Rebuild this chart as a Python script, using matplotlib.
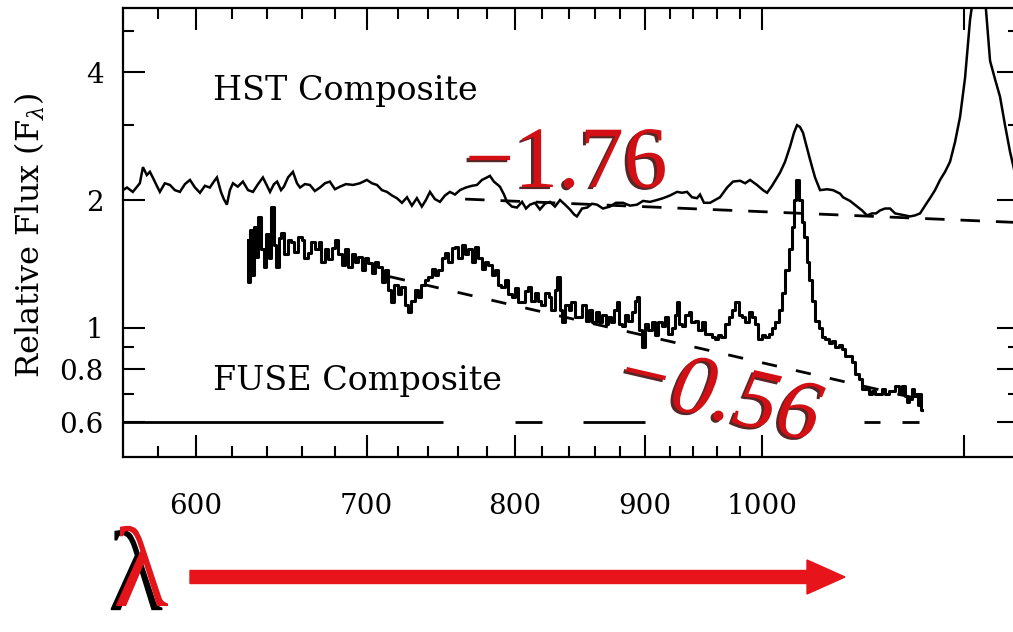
import numpy as np
import matplotlib
matplotlib.use("Agg")
import matplotlib.pyplot as plt
import matplotlib.patheffects as pe
from matplotlib.patches import FancyArrow
from matplotlib.ticker import FixedLocator, FixedFormatter, NullFormatter

# --- HST composite (wavelength in A, relative F_lambda) ---
HST_WAVE = [561.8, 563.8, 566.8, 570.4, 572.0, 574.0, 575.6, 577.1, 579.2, 580.8,
            583.4, 586.1, 588.7, 591.4, 594.1, 596.8, 599.5, 602.2, 604.9, 607.6,
            609.8, 611.5, 613.7, 615.3, 617.0, 618.7, 620.4, 623.1, 626.0, 628.9,
            631.7, 634.6, 637.4, 639.8, 641.5, 643.8, 645.6, 647.9, 649.6, 652.0,
            654.9, 657.3, 659.1, 662.0, 665.0, 668.0, 671.1, 674.1, 677.1, 680.2,
            683.3, 687.0, 691.4, 695.7, 700.1, 703.3, 706.5, 709.7, 712.9, 716.1,
            719.3, 722.6, 725.9, 729.1, 732.4, 735.7, 738.4, 741.1, 744.4, 747.8,
            751.2, 754.6, 758.0, 761.4, 765.5, 769.7, 773.2, 776.7, 780.2, 782.3,
            785.1, 789.4, 792.3, 794.4, 798.0, 801.6, 805.3, 808.2, 811.1, 814.7,
            818.4, 822.1, 825.9, 829.6, 833.4, 837.2, 840.9, 844.0, 846.2, 850.1,
            854.0, 857.8, 861.7, 866.3, 871.8, 876.5, 882.1, 887.7, 893.3, 898.2,
            903.9, 909.6, 914.6, 920.4, 926.2, 930.4, 934.6, 938.8, 943.0, 945.6,
            949.0, 954.2, 958.5, 962.8, 969.0, 974.2, 980.4, 984.9, 989.3, 995.5,
            1000.9, 1004.6, 1009.1, 1013.7, 1016.4, 1021.0, 1025.6, 1029.3, 1032.1, 1034.9,
            1037.7, 1041.5, 1044.3, 1049.0, 1053.8, 1060.5, 1066.2, 1073.0, 1075.9, 1082.7,
            1089.6, 1094.5, 1099.4, 1104.4, 1108.4, 1112.4, 1117.4, 1122.5, 1127.6, 1132.7,
            1137.8, 1142.9, 1148.1, 1153.3, 1158.5, 1163.7, 1169.0, 1174.3, 1179.6, 1184.9,
            1190.3, 1195.7, 1201.1, 1206.5, 1210.9, 1215.2, 1219.6, 1224.0, 1228.5, 1234.0,
            1239.6, 1245.2, 1250.8, 1257.5]
HST_FLUX = [2.11, 2.14, 2.09, 2.19, 2.39, 2.29, 2.33, 2.26, 2.16, 2.09,
            2.19, 2.17, 2.11, 2.09, 2.18, 2.23, 2.14, 2.08, 2.16, 2.14,
            2.21, 2.26, 2.09, 2.01, 1.95, 2.11, 2.19, 2.15, 2.21, 2.11,
            2.09, 2.18, 2.26, 2.16, 2.09, 2.18, 2.21, 2.11, 2.15, 2.26,
            2.33, 2.19, 2.14, 2.18, 2.17, 2.10, 2.14, 2.19, 2.21, 2.12,
            2.15, 2.18, 2.17, 2.19, 2.23, 2.19, 2.17, 2.11, 2.09, 2.05,
            2.02, 1.97, 2.03, 1.94, 2.02, 1.93, 2.00, 2.09, 2.01, 1.98,
            2.05, 2.09, 2.06, 2.11, 2.14, 2.16, 2.17, 2.23, 2.26, 2.28,
            2.21, 2.15, 2.06, 1.98, 1.93, 1.92, 1.98, 1.91, 1.95, 1.97,
            1.90, 1.96, 1.98, 1.93, 2.00, 1.95, 1.90, 1.85, 1.83, 1.91,
            1.92, 1.96, 1.95, 1.91, 1.93, 1.97, 1.97, 1.94, 1.95, 1.99,
            1.98, 2.00, 2.02, 2.05, 2.09, 2.08, 2.09, 2.03, 2.02, 2.06,
            1.97, 1.97, 2.00, 2.03, 2.14, 2.21, 2.22, 2.19, 2.23, 2.17,
            2.11, 2.08, 2.16, 2.26, 2.32, 2.46, 2.67, 2.88, 3.00, 2.97,
            2.88, 2.65, 2.49, 2.26, 2.11, 2.12, 2.11, 2.07, 2.03, 1.99,
            1.93, 1.89, 1.84, 1.86, 1.86, 1.89, 1.91, 1.91, 1.86, 1.85,
            1.84, 1.83, 1.84, 1.86, 1.94, 2.02, 2.11, 2.23, 2.33, 2.46,
            2.74, 3.14, 3.88, 5.31, 6.2, 7.4, 7.1, 5.6, 4.25, 3.85,
            3.50, 3.00, 2.60, 2.26]

# --- FUSE composite ---
FUSE_WAVE = [628.9, 629.4, 630.6, 631.7, 632.8, 634.0, 635.7, 637.4, 638.6, 640.3,
             641.5, 643.2, 644.4, 645.6, 647.3, 649.0, 650.8, 653.1, 654.9, 656.7,
             659.1, 660.9, 662.6, 665.0, 666.8, 669.3, 671.1, 672.9, 675.3, 677.1,
             679.6, 681.4, 683.3, 685.8, 687.6, 689.5, 692.0, 693.8, 695.7, 698.2,
             700.1, 702.0, 704.6, 706.5, 708.4, 711.0, 712.9, 714.8, 716.8, 718.7,
             721.3, 723.2, 725.9, 727.8, 729.8, 732.4, 734.4, 736.4, 739.1, 741.1,
             743.8, 745.8, 747.8, 750.5, 752.6, 754.6, 757.3, 759.4, 761.4, 764.2,
             766.2, 768.3, 771.1, 773.2, 775.3, 778.1, 780.2, 782.3, 785.1, 787.3,
             789.4, 791.6, 794.4, 796.6, 798.8, 800.9, 803.8, 806.0, 808.2, 811.1,
             813.3, 816.2, 818.4, 820.7, 823.7, 825.9, 828.1, 830.4, 831.9, 834.2,
             835.7, 838.7, 840.9, 843.2, 846.2, 848.5, 851.6, 854.0, 856.2, 859.3,
             861.7, 864.0, 867.1, 869.5, 871.8, 874.2, 876.5, 878.1, 880.5, 882.1,
             885.3, 887.7, 890.9, 892.5, 894.1, 896.5, 898.2, 900.6, 903.9, 906.4,
             908.8, 912.1, 914.6, 917.1, 920.4, 922.9, 925.4, 927.0, 929.5, 931.2,
             934.6, 937.1, 939.6, 943.0, 945.6, 948.2, 951.6, 954.2, 956.8, 960.2,
             962.8, 965.4, 969.0, 971.6, 974.2, 977.7, 980.4, 983.1, 986.6, 989.3,
             992.0, 994.6, 998.2, 1000.9, 1004.6, 1007.3, 1010.0, 1013.7, 1016.4, 1019.2,
             1022.9, 1025.6, 1028.4, 1030.3, 1032.1, 1034.9, 1037.7, 1039.6, 1042.5, 1044.3,
             1047.1, 1050.9, 1053.8, 1056.6, 1060.5, 1063.3, 1066.2, 1070.1, 1073.0, 1075.9,
             1079.8, 1082.7, 1085.6, 1089.6, 1092.5, 1095.5, 1099.4, 1102.4, 1105.4, 1109.4,
             1112.4, 1115.4, 1119.5, 1122.5, 1125.6, 1129.6, 1132.7, 1135.8, 1138.9, 1140.9,
             1142.9, 1146.0, 1148.1, 1150.2, 1152.2, 1153.3, 1155.4]
FUSE_FLUX = [1.61, 1.28, 1.70, 1.33, 1.73, 1.47, 1.82, 1.53, 1.39, 1.66,
             1.46, 1.93, 1.57, 1.39, 1.63, 1.67, 1.49, 1.61, 1.59, 1.51,
             1.64, 1.61, 1.46, 1.50, 1.59, 1.53, 1.59, 1.43, 1.53, 1.45,
             1.54, 1.61, 1.49, 1.41, 1.53, 1.39, 1.49, 1.43, 1.47, 1.37,
             1.46, 1.42, 1.35, 1.43, 1.39, 1.28, 1.37, 1.23, 1.15, 1.26,
             1.20, 1.25, 1.13, 1.09, 1.16, 1.23, 1.18, 1.26, 1.30, 1.32,
             1.38, 1.33, 1.37, 1.46, 1.50, 1.43, 1.54, 1.55, 1.46, 1.57,
             1.49, 1.53, 1.43, 1.55, 1.46, 1.38, 1.43, 1.41, 1.33, 1.37,
             1.26, 1.25, 1.30, 1.20, 1.18, 1.24, 1.15, 1.15, 1.22, 1.25,
             1.16, 1.21, 1.16, 1.13, 1.21, 1.18, 1.10, 1.23, 1.32, 1.10,
             1.03, 1.13, 1.10, 1.15, 1.06, 1.06, 1.13, 1.04, 1.10, 1.03,
             1.09, 1.03, 1.07, 1.02, 1.06, 1.03, 1.10, 1.15, 1.02, 1.01,
             1.07, 1.04, 1.09, 1.16, 1.18, 0.99, 0.90, 1.02, 0.99, 1.03,
             0.96, 1.03, 1.01, 1.06, 0.97, 1.00, 1.07, 1.15, 1.02, 1.01,
             1.07, 1.09, 1.03, 1.04, 0.99, 1.03, 0.97, 0.97, 0.95, 0.94,
             0.96, 0.95, 1.02, 1.06, 1.10, 1.15, 1.07, 1.06, 1.03, 1.09,
             1.06, 1.02, 0.94, 0.96, 0.95, 0.97, 1.00, 1.03, 1.10, 1.21,
             1.37, 1.53, 1.73, 2.00, 2.23, 2.00, 1.78, 1.64, 1.43, 1.30,
             1.16, 1.04, 1.00, 0.95, 0.94, 0.92, 0.93, 0.90, 0.91, 0.89,
             0.86, 0.86, 0.83, 0.78, 0.76, 0.72, 0.72, 0.70, 0.71, 0.70,
             0.70, 0.72, 0.70, 0.71, 0.71, 0.73, 0.70, 0.73, 0.69, 0.67,
             0.68, 0.72, 0.69, 0.70, 0.66, 0.70, 0.64]

# power-law fits (end points)
HST_FIT_WAVE = [765.0, 1261.0]
HST_FIT_FLUX = [2.01, 1.77]
FUSE_FIT_WAVE = [714.8, 1153.0]
FUSE_FIT_FLUX = [1.32, 0.68]

# continuum windows drawn at F = 0.6
WINDOWS = [(561.8, 750.0), (800.0, 820.0), (851.0, 900.0), (1096.0, 1112.0), (1135.0, 1152.0)]
WINDOW_LEVEL = 0.6

X_MAJOR = [600, 700, 800, 900, 1000, 1200]
X_LABELS = ["600", "700", "800", "900", "1000", ""]
X_MINOR = [580, 620, 640, 660, 680, 720, 740, 760, 780, 820, 840, 860, 880,
           920, 940, 960, 980]
Y_MAJOR = [0.6, 0.8, 1, 2, 4]
Y_LABELS = ["0.6", "0.8", "1", "2", "4"]
Y_MINOR = [0.7, 0.9, 3, 5]

plt.rcParams["font.family"] = "DejaVu Serif"
plt.rcParams["mathtext.fontset"] = "dejavuserif"
plt.rcParams["lines.scale_dashes"] = False

W, H = 1013, 632
fig = plt.figure(figsize=(W / 100, H / 100), dpi=100)
fig.patch.set_facecolor("white")
ax = fig.add_axes([123 / W, (H - 457) / H, (1019 - 123) / W, (457 - 8) / H])

ax.set_xscale("log")
ax.set_yscale("log")
ax.set_xlim(561.8, 1261)
ax.set_ylim(0.497, 5.66)

ax.plot(HST_WAVE, HST_FLUX, color="black", lw=1.8, solid_joinstyle="miter")
ax.plot(FUSE_WAVE, FUSE_FLUX, color="black", lw=2.2, drawstyle="steps-mid")
ax.plot(HST_FIT_WAVE, HST_FIT_FLUX, color="black", lw=2.0, dashes=(14, 11.5))
ax.plot(FUSE_FIT_WAVE, FUSE_FIT_FLUX, color="black", lw=2.0, dashes=(11, 14))
for lo, hi in WINDOWS:
    ax.plot([lo, hi], [WINDOW_LEVEL, WINDOW_LEVEL], color="black", lw=2.0,
            solid_capstyle="butt")

# ticks
ax.xaxis.set_major_locator(FixedLocator(X_MAJOR))
ax.xaxis.set_major_formatter(FixedFormatter(X_LABELS))
ax.xaxis.set_minor_locator(FixedLocator(X_MINOR))
ax.xaxis.set_minor_formatter(NullFormatter())
ax.yaxis.set_major_locator(FixedLocator(Y_MAJOR))
ax.yaxis.set_major_formatter(FixedFormatter(Y_LABELS))
ax.yaxis.set_minor_locator(FixedLocator(Y_MINOR))
ax.yaxis.set_minor_formatter(NullFormatter())
ax.tick_params(which="both", direction="in", top=True, right=True, width=1.5,
               colors="black", labelsize=20)
ax.tick_params(which="major", length=15.5)
ax.tick_params(which="minor", length=8)
ax.tick_params(axis="x", which="major", pad=26)
ax.tick_params(axis="y", which="major", pad=14)
for sp in ax.spines.values():
    sp.set_linewidth(1.6)

fig.text(30 / W, 1 - 235 / H, r"Relative Flux (F$_\lambda$)", rotation=90,
         ha="center", va="center", fontsize=23)

ax.text((213 - 123) / 896, (457 - 100) / 449, "HST Composite",
        transform=ax.transAxes, fontsize=24, ha="left", va="baseline")
ax.text((213 - 123) / 896, (457 - 390) / 449, "FUSE Composite",
        transform=ax.transAxes, fontsize=24, ha="left", va="baseline")

red = "#d10f14"
shadow = [pe.SimplePatchShadow(offset=(-2, -1.5), shadow_rgbFace="#3a0000", alpha=0.85),
          pe.Normal()]
ax.text((465 - 123) / 896, (457 - 187) / 449, "\u22121.76", transform=ax.transAxes,
        fontsize=63, family="Liberation Serif", color=red, ha="left", va="baseline",
        path_effects=shadow)
ax.text((717 - 123) / 896, (457 - 398) / 449, "\u22120.56", transform=ax.transAxes,
        fontsize=62, family="Liberation Serif", style="italic", color=red,
        ha="center", va="center", rotation=-13, rotation_mode="anchor",
        path_effects=shadow)

# wavelength arrow below the axis
fig.text(141 / W, 2 / H, "\u03bb", fontsize=82, family="Liberation Serif",
         color="#e3141a", ha="center", va="bottom",
         path_effects=[pe.SimplePatchShadow(offset=(-4, -3), shadow_rgbFace="black",
                                            alpha=1.0), pe.Normal()])
arrow = FancyArrow(190 / W, 1 - 577 / H, (845 - 190) / W, 0, width=13 / H,
                   head_width=34 / H, head_length=38 / W, length_includes_head=True,
                   color="#e8141b", transform=fig.transFigure)
fig.patches.append(arrow)

fig.savefig("out.png", dpi=100, facecolor="white")
